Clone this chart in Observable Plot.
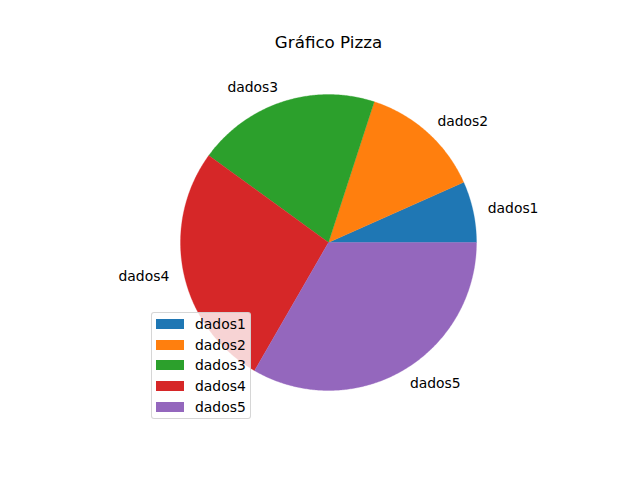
<!DOCTYPE html>
<html>
<head>
<meta charset="utf-8">
<script src="https://cdn.jsdelivr.net/npm/d3@7"></script>
<script src="https://cdn.jsdelivr.net/npm/@observablehq/plot@0.6"></script>
<style>
  html, body { margin: 0; padding: 0; background: #fff; }
  #wrap { position: relative; width: 640px; height: 480px; font-family: "DejaVu Sans", sans-serif; }
  #legend { position: absolute; left: 151px; top: 312px; width: 100px; height: 107px;
    background: rgba(255,255,255,0.8); border: 1px solid rgba(204,204,204,0.8); border-radius: 3px; box-sizing: border-box; }
  .row { position: absolute; left: 4px; height: 14px; display: flex; align-items: center; font-size: 13.9px; color: #000; }
  .sw { width: 28px; height: 10px; margin-right: 11px; }
</style>
</head>
<body>
<div id="wrap"></div>
<script>
const categories = ["dados1", "dados2", "dados3", "dados4", "dados5"];
const values = [1, 2, 3, 4, 5];
const colors = ["#1f77b4", "#ff7f0e", "#2ca02c", "#d62728", "#9467bd"];
const title = "Gráfico Pizza";

const total = d3.sum(values);
const slices = [];
const labels = [];
let start = 0;
categories.forEach((c, i) => {
  const sweep = values[i] / total * 2 * Math.PI;
  const end = start + sweep;
  const pts = [{cat: c, x: 0, y: 0}];
  const n = Math.max(2, Math.ceil(sweep / (Math.PI / 360)));
  for (let k = 0; k <= n; k++) {
    const a = start + sweep * k / n;
    pts.push({cat: c, x: Math.cos(a), y: Math.sin(a)});
  }
  pts.push({cat: c, x: 0, y: 0});
  slices.push(...pts);
  const mid = (start + end) / 2;
  labels.push({cat: c, x: 1.1 * Math.cos(mid), y: 1.1 * Math.sin(mid)});
  start = end;
});

const color = {domain: categories, range: colors};
const chart = Plot.plot({
  width: 640, height: 480,
  marginLeft: 143, marginRight: 127, marginTop: 57, marginBottom: 53,
  x: {domain: [-1.25, 1.25], axis: null},
  y: {domain: [-1.25, 1.25], axis: null},
  color,
  style: {fontFamily: "DejaVu Sans, sans-serif", background: "#fff", overflow: "visible"},
  marks: [
    Plot.line(slices, {x: "x", y: "y", z: "cat", fill: "cat", stroke: "cat", strokeWidth: 0.3, curve: "linear"}),
    Plot.text(labels.filter(d => d.x >= 0), {x: "x", y: "y", text: "cat", textAnchor: "start", fontSize: 13.9, fill: "#000"}),
    Plot.text(labels.filter(d => d.x < 0), {x: "x", y: "y", text: "cat", textAnchor: "end", fontSize: 13.9, fill: "#000"}),
    Plot.text([title], {frameAnchor: "top", dy: -10, lineAnchor: "bottom", fontSize: 16.7, fill: "#000"})
  ]
});
const wrap = document.getElementById("wrap");
wrap.appendChild(chart);

const sc = chart.scale("color");
const leg = document.createElement("div");
leg.id = "legend";
categories.forEach((c, i) => {
  const row = document.createElement("div");
  row.className = "row";
  row.style.top = (4 + i * 20.7) + "px";
  const sw = document.createElement("div");
  sw.className = "sw";
  sw.style.background = sc.apply(c);
  row.appendChild(sw);
  const t = document.createElement("span");
  t.textContent = c;
  row.appendChild(t);
  leg.appendChild(row);
});
wrap.appendChild(leg);
</script>
</body>
</html>
